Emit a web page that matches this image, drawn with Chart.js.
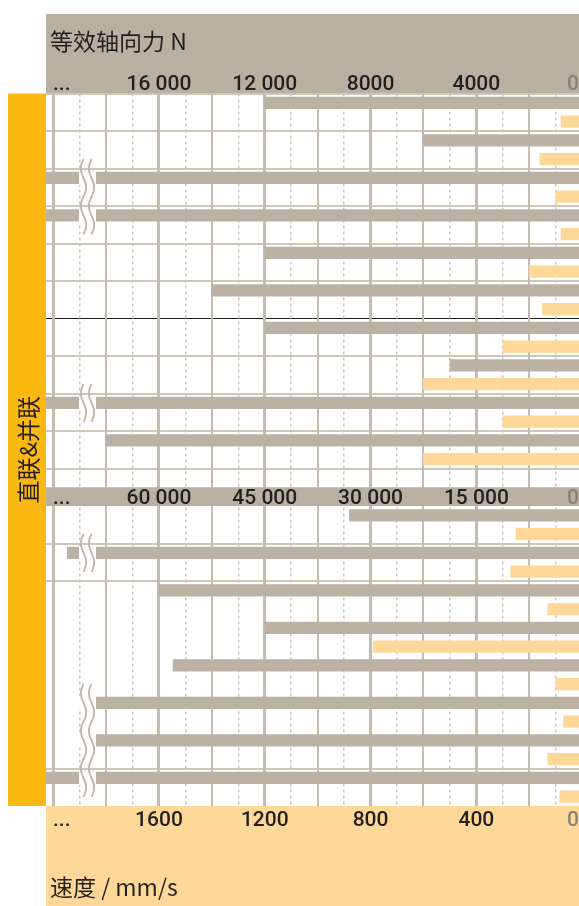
<!DOCTYPE html>
<html lang="zh-CN">
<head>
<meta charset="utf-8">
<title>等效轴向力 / 速度</title>
<script src="https://cdn.jsdelivr.net/npm/chart.js@4.4.1/dist/chart.umd.min.js"></script>
<style>
  html, body { margin: 0; padding: 0; background: #fff; }
  canvas { display: block; }
</style>
</head>
<body>
<canvas id="chart" width="579" height="906"></canvas>
<script>
// ── Data ──────────────────────────────────────────────────────────────────────

// upper block: equivalent axial force (N) and speed (mm/s), one pair per row
const upperForce = [12000, 6000, 25000, 25000, 12000, 14000, 12000, 5000, 25000, 18000];
const upperSpeed = [80, 160, 100, 80, 200, 150, 300, 600, 300, 600];

// lower block: larger force range, same speed axis
const lowerForce = [33000, 73000, 60000, 45000, 58000, 69000, 69000, 90000];
const lowerSpeed = [250, 270, 130, 790, 100, 70, 130, 85];

// rows whose force bar runs past the break
const upperBreakRows = [2, 3, 8];
const lowerBreakRows = [1, 5, 6, 7];

// row separators
const upperDividerRow = 6;
const lowerRuleRows = [1, 2, 7];

const upperForceTicks = [16000, 12000, 8000, 4000, 0];
const lowerForceTicks = [60000, 45000, 30000, 15000, 0];
const speedTicks = [1600, 1200, 800, 400, 0];

// ── Styles ────────────────────────────────────────────────────────────────────

const GRAY = '#bbb2a5';
const HEADER_GRAY = '#b9b0a3';
const ORANGE = '#fed898';
const YELLOW = '#fbb813';
const TEXT = '#231f20';
const GRID = '#c4bcb0';
const GRID_DASH = '#cdc6bc';
const ROW_RULE = '#cdc6bb';

// speed axis range; the force axes share the same pixels
const SPEED_MIN = 12;
const SPEED_MAX = 2027;
const UPPER_PER_SPEED = 10;
const LOWER_PER_SPEED = 37.5;
const BREAK_AT = 1870;

// ── Slots: one category per bar ───────────────────────────────────────────────

const slots = [];
upperForce.forEach((_, i) => slots.push(`上${i + 1}力`, `上${i + 1}速`));
const GAP_SLOT = slots.length;
slots.push('空');
const BAND_SLOT = slots.length;
slots.push('刻度');
const LOWER_START = slots.length;
lowerForce.forEach((_, i) => slots.push(`下${i + 1}力`, `下${i + 1}速`));

const upperForceData = slots.map(() => null);
const lowerForceData = slots.map(() => null);
const speedData = slots.map(() => null);
upperForce.forEach((v, i) => { upperForceData[2 * i] = v; });
upperSpeed.forEach((v, i) => { speedData[2 * i + 1] = v; });
lowerForce.forEach((v, i) => { lowerForceData[LOWER_START + 2 * i] = v; });
lowerSpeed.forEach((v, i) => { speedData[LOWER_START + 2 * i + 1] = v; });

function formatTick(v) {
    if (v < 10000) return String(v);
    return String(v).replace(/\B(?=(\d{3})+(?!\d))/g, ' ');
}

// ── Panels, breaks and labels ─────────────────────────────────────────────────

function drawBreak(ctx, xc, y) {
    ctx.fillStyle = '#fff';
    ctx.fillRect(xc - 8.5, y - 7, 17, 14);
    ctx.strokeStyle = '#bdb4a8';
    ctx.lineWidth = 1.8;
    [-4, 4].forEach((dx) => {
        ctx.beginPath();
        for (let k = 0; k <= 32; k++) {
            const s = -1 + k / 16;
            const px = xc + dx + 2.6 * Math.sin(Math.PI * s);
            const py = y + 19 * s;
            if (k) ctx.lineTo(px, py); else ctx.moveTo(px, py);
        }
        ctx.stroke();
    });
}

function drawTickRow(ctx, scale, values, baseline, area) {
    ctx.textAlign = 'center';
    values.forEach((v) => {
        const px = scale.getPixelForValue(v);
        ctx.fillStyle = v === 0 ? '#8a8278' : TEXT;
        ctx.fillText(formatTick(v), Math.min(px, area.right - 6), baseline);
    });
    ctx.textAlign = 'left';
    ctx.fillStyle = TEXT;
    ctx.fillText('...', area.left + 7, baseline);
}

const panelPlugin = {
    id: 'panels',
    beforeDraw(chart) {
        const { ctx, chartArea: a } = chart;
        ctx.save();
        ctx.fillStyle = '#fff';
        ctx.fillRect(0, 0, chart.width, chart.height);
        ctx.fillStyle = HEADER_GRAY;
        ctx.fillRect(a.left, 14, a.right - a.left, a.top - 14);
        ctx.fillStyle = ORANGE;
        ctx.fillRect(a.left, a.bottom, a.right - a.left, chart.height - a.bottom);
        ctx.fillStyle = YELLOW;
        ctx.fillRect(8, a.top, a.left - 8, a.bottom - a.top);

        ctx.fillStyle = TEXT;
        ctx.font = '23px "Noto Sans CJK SC"';
        ctx.textBaseline = 'middle';
        ctx.textAlign = 'left';
        ctx.fillText('等效轴向力 N', 50, 41);
        ctx.fillText('速度 / mm/s', 50, 887);

        ctx.translate(27, (a.top + a.bottom) / 2);
        ctx.rotate(-Math.PI / 2);
        ctx.textAlign = 'center';
        ctx.fillText('直联&并联', 0, 1);
        ctx.restore();
    },
    afterDatasetsDraw(chart) {
        const { ctx, chartArea: a, scales } = chart;
        const ys = scales.y;
        const slotH = (a.bottom - a.top) / slots.length;
        const xc = scales.x.getPixelForValue(BREAK_AT);

        ctx.save();
        upperBreakRows.forEach((r) => drawBreak(ctx, xc, ys.getPixelForValue(2 * r)));
        lowerBreakRows.forEach((r) => drawBreak(ctx, xc, ys.getPixelForValue(LOWER_START + 2 * r)));

        const bandTop = ys.getPixelForValue(BAND_SLOT) - slotH / 2;
        ctx.fillStyle = HEADER_GRAY;
        ctx.fillRect(a.left, bandTop, a.right - a.left, slotH);

        ctx.font = '500 21px Roboto';
        ctx.textBaseline = 'alphabetic';
        drawTickRow(ctx, scales.xUpper, upperForceTicks, a.top - 3.5, a);
        drawTickRow(ctx, scales.xLower, lowerForceTicks, bandTop + slotH - 2, a);
        drawTickRow(ctx, scales.x, speedTicks, a.bottom + 19.5, a);
        ctx.restore();
    },
};

// ── Chart ─────────────────────────────────────────────────────────────────────

function gridTicks(step, from, to) {
    return (axis) => {
        const ticks = [];
        for (let v = from; v <= to; v += step) ticks.push({ value: v });
        axis.ticks = ticks;
    };
}

new Chart(document.getElementById('chart'), {
    type: 'bar',
    data: {
        labels: slots,
        datasets: [
            { label: '等效轴向力', data: upperForceData, xAxisID: 'xUpper', backgroundColor: GRAY },
            { label: '等效轴向力', data: lowerForceData, xAxisID: 'xLower', backgroundColor: GRAY },
            { label: '速度', data: speedData, xAxisID: 'x', backgroundColor: ORANGE },
        ],
    },
    options: {
        indexAxis: 'y',
        responsive: false,
        animation: false,
        devicePixelRatio: 1,
        layout: { padding: { left: 46, top: 93.5, right: 0, bottom: 100 } },
        datasets: { bar: { grouped: false, barThickness: 11.5, borderWidth: 0 } },
        plugins: { legend: { display: false }, tooltip: { enabled: false } },
        scales: {
            y: {
                type: 'category',
                ticks: { display: false },
                border: { display: false },
                grid: {
                    offset: true,
                    drawTicks: false,
                    color(ctx) {
                        const i = ctx.index;
                        if (i === 2 * upperDividerRow) return '#1a1a1a';
                        if (i <= GAP_SLOT && i % 2 === 0) return ROW_RULE;
                        const row = (i - LOWER_START) / 2;
                        if (i > LOWER_START && Number.isInteger(row) && lowerRuleRows.includes(row)) return ROW_RULE;
                        return 'transparent';
                    },
                    lineWidth(ctx) {
                        return ctx.index === 2 * upperDividerRow ? 1 : 2;
                    },
                },
            },
            x: {
                type: 'linear',
                position: 'bottom',
                reverse: true,
                min: SPEED_MIN,
                max: SPEED_MAX,
                afterBuildTicks: gridTicks(200, 200, 2000),
                ticks: { display: false },
                border: { display: false },
                grid: {
                    drawTicks: false,
                    color: GRID,
                    lineWidth(ctx) {
                        return ctx.tick && ctx.tick.value % 400 === 0 ? 3 : 2;
                    },
                },
            },
            xMinor: {
                type: 'linear',
                position: 'bottom',
                reverse: true,
                min: SPEED_MIN,
                max: SPEED_MAX,
                afterBuildTicks: gridTicks(200, 100, 1900),
                ticks: { display: false },
                border: { display: false, dash: [3, 3] },
                grid: { drawTicks: false, color: GRID_DASH, lineWidth: 1.5 },
            },
            xUpper: {
                type: 'linear',
                display: false,
                reverse: true,
                min: SPEED_MIN * UPPER_PER_SPEED,
                max: SPEED_MAX * UPPER_PER_SPEED,
            },
            xLower: {
                type: 'linear',
                display: false,
                reverse: true,
                min: SPEED_MIN * LOWER_PER_SPEED,
                max: SPEED_MAX * LOWER_PER_SPEED,
            },
        },
    },
    plugins: [panelPlugin],
});
</script>
</body>
</html>
